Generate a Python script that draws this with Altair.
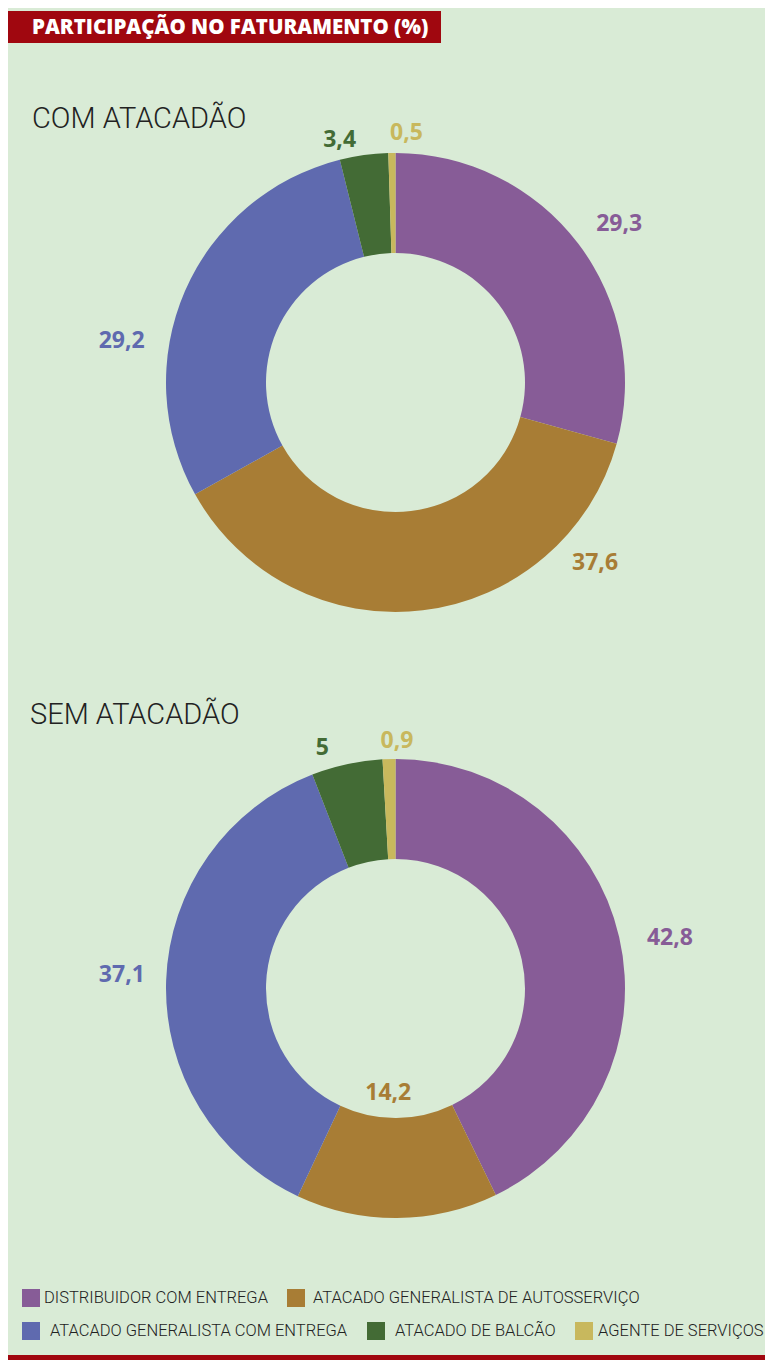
import altair as alt
import pandas as pd

# ---- data ----
categories = [
    "DISTRIBUIDOR COM ENTREGA",
    "ATACADO GENERALISTA DE AUTOSSERVIÇO",
    "ATACADO GENERALISTA COM ENTREGA",
    "ATACADO DE BALCÃO",
    "AGENTE DE SERVIÇOS",
]
com_values = [29.3, 37.6, 29.2, 3.4, 0.5]
sem_values = [42.8, 14.2, 37.1, 5.0, 0.9]
title_text = "PARTICIPAÇÃO NO FATURAMENTO (%)"
com_title = "COM ATACADÃO"
sem_title = "SEM ATACADÃO"

# ---- styles / layout ----
colors = ["#875c97", "#a87d35", "#5f6aaf", "#436b35", "#c8b85d"]
BG = "#d9ebd6"
RED = "#a0070f"
W, H = 757, 1352
CX = 387.5
COM_CY, SEM_CY = 374.5, 980.5
R_OUT, R_IN = 229.5, 129.5
NARROW = "Roboto"
# label placement along the circle (theta-scale units) and radius in px
com_lpos = [15.2, 36.7, 77.4, 96.4, 0.7]
com_lrad = [274, 269, 277, 249, 250]
sem_lpos = [22.1, 51.1, 75.8, 95.3, 0.1]
sem_lrad = [279, 105, 274, 251, 248]
# legend layout
leg_sq_x = [23, 288, 23, 368, 576]
leg_tx_x = [36, 305, 42, 387, 590]
leg_y = [1290, 1290, 1323, 1323, 1323]

def fmt(v):
    return f"{v:g}".replace(".", ",")

def donut_df(values, lpos, lrad):
    return pd.DataFrame({
        "cat": categories,
        "value": values,
        "idx": list(range(len(categories))),
        "label": [fmt(v) for v in values],
        "lpos": lpos,
        "lrad": lrad,
    })

color_scale = alt.Scale(domain=categories, range=colors)
theta_scale = alt.Scale(domain=[0, 100])

def donut(values, lpos, lrad, cy):
    df = donut_df(values, lpos, lrad)
    base = alt.Chart(df)
    arcs = base.mark_arc(outerRadius=R_OUT, innerRadius=R_IN).encode(
        theta=alt.Theta("value:Q", stack=True, scale=theta_scale),
        color=alt.Color("cat:N", scale=color_scale, legend=None),
        order=alt.Order("idx:Q"),
        x=alt.value(CX),
        y=alt.value(cy),
    )
    labels = base.mark_text(
        font="Open Sans", fontWeight="bold", fontSize=23, baseline="middle", align="center"
    ).encode(
        theta=alt.Theta("lpos:Q", stack=None, scale=theta_scale),
        radius=alt.Radius("lrad:Q", scale=None),
        text="label:N",
        color=alt.Color("cat:N", scale=color_scale, legend=None),
        x=alt.value(CX),
        y=alt.value(cy),
    )
    return [arcs, labels]

# title bar
title_df = pd.DataFrame({"t": [title_text]})
title_bar = alt.Chart(title_df).mark_rect(color=RED).encode(
    x=alt.value(0), x2=alt.value(433), y=alt.value(3), y2=alt.value(35)
)
title_txt = alt.Chart(title_df).mark_text(
    font="Open Sans", fontWeight=800, fontSize=20.5, color="white",
    align="left", baseline="middle"
).encode(x=alt.value(24), y=alt.value(20), text="t:N")

sub_df = pd.DataFrame({"t": [com_title, sem_title], "y": [120, 716], "x": [24, 22]})
subs = alt.Chart(sub_df).mark_text(
    font=NARROW, fontWeight=300, fontSize=29, color="#222222",
    align="left", baseline="alphabetic"
).encode(
    x=alt.X("x:Q", scale=None), y=alt.Y("y:Q", scale=None), text="t:N"
)

leg_df = pd.DataFrame({
    "cat": categories, "sx": leg_sq_x, "tx": leg_tx_x, "y": leg_y
})
leg_sq = alt.Chart(leg_df).mark_square(size=324, opacity=1).encode(
    x=alt.X("sx:Q", scale=None), y=alt.Y("y:Q", scale=None),
    color=alt.Color("cat:N", scale=color_scale, legend=None),
)
leg_tx = alt.Chart(leg_df).mark_text(
    font=NARROW, fontWeight=300, fontSize=16.5, color="#222222",
    align="left", baseline="middle"
).encode(
    x=alt.X("tx:Q", scale=None), y=alt.Y("y:Q", scale=None), text="cat:N"
)

bottom = alt.Chart(title_df).mark_rect(color=RED).encode(
    x=alt.value(0), x2=alt.value(W), y=alt.value(H - 5), y2=alt.value(H)
)

layers = (
    [title_bar, title_txt, subs]
    + donut(com_values, com_lpos, com_lrad, COM_CY)
    + donut(sem_values, sem_lpos, sem_lrad, SEM_CY)
    + [leg_sq, leg_tx, bottom]
)

chart = alt.layer(*layers).properties(
    width=W, height=H, background=BG, padding=0,
    autosize=alt.AutoSizeParams(type="none"),
).configure_view(stroke=None)

chart.save("out.html", embed_options={"renderer": "svg", "actions": False})
